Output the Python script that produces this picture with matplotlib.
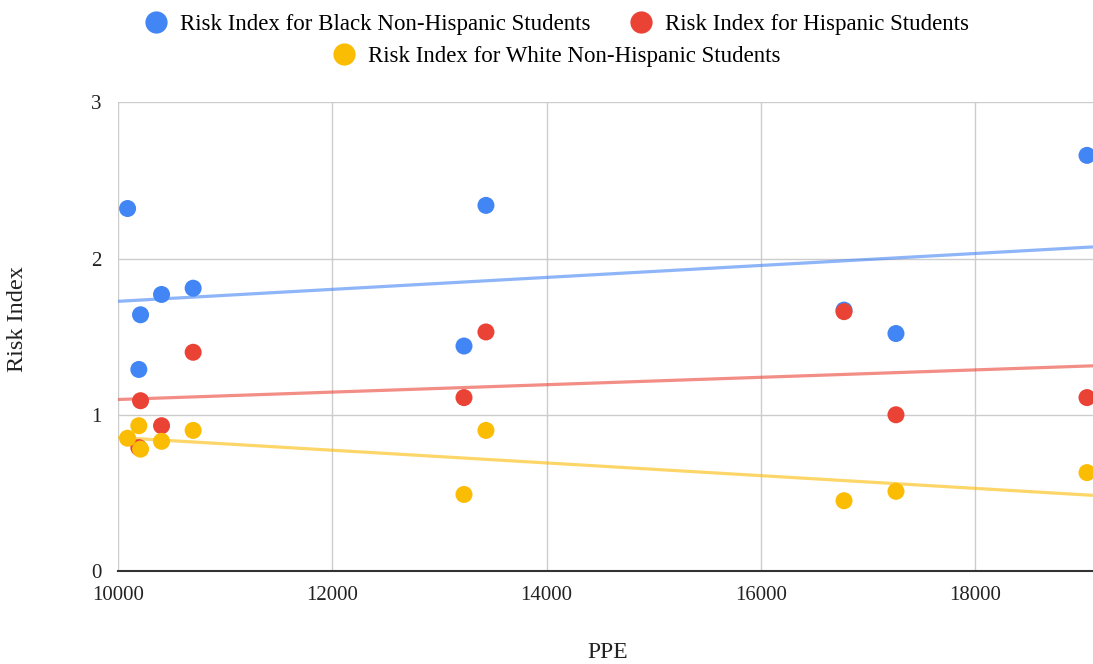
import matplotlib.pyplot as plt
import numpy as np
from matplotlib.lines import Line2D

plt.rcParams["font.family"] = ["Liberation Serif", "DejaVu Serif"]

# PPE values per district; the Hispanic series has one district fewer
ppe = [10089, 10194, 10210, 10406, 10701, 13229, 13434, 16776, 17261, 19044]
black_risk = [2.32, 1.29, 1.64, 1.77, 1.81, 1.44, 2.34, 1.67, 1.52, 2.66]
hispanic_ppe = [10194, 10210, 10406, 10701, 13229, 13434, 16776, 17261, 19044]
hispanic_risk = [0.79, 1.09, 0.93, 1.40, 1.11, 1.53, 1.66, 1.00, 1.11]
white_risk = [0.85, 0.93, 0.78, 0.83, 0.90, 0.49, 0.90, 0.45, 0.51, 0.63]

series = [
    ("Risk Index for Black Non-Hispanic Students", ppe, black_risk, "#4285F4"),
    ("Risk Index for Hispanic Students", hispanic_ppe, hispanic_risk, "#EA4335"),
    ("Risk Index for White Non-Hispanic Students", ppe, white_risk, "#FBBC04"),
]

x_ticks = [10000, 12000, 14000, 16000, 18000]
y_ticks = [0, 1, 2, 3]
x_lim = (10000, 19100)

fig = plt.figure(figsize=(10.93, 6.64), dpi=100)
ax = fig.add_axes([0.108, 0.140, 0.892, 0.706])

x_line = np.array(x_lim, dtype=float)
for label, xs, vals, color in series:
    slope, icpt = np.polyfit(np.asarray(xs, float), np.asarray(vals, float), 1)
    ax.plot(x_line, slope * x_line + icpt, color=color, alpha=0.6, linewidth=2.3,
            zorder=2, solid_capstyle="butt")
for i, (label, xs, vals, color) in enumerate(series):
    ax.scatter(xs, vals, s=150, color=color, edgecolors="none", zorder=3 + i, clip_on=False)

ax.set_xlim(*x_lim)
ax.set_ylim(0, 3)
ax.set_xticks(x_ticks)
ax.set_yticks(y_ticks)
ax.tick_params(length=0, labelsize=15, colors="#222222")
ax.tick_params(axis="x", pad=11)
ax.tick_params(axis="y", pad=12)
ax.grid(True, color="#cccccc", linewidth=1.0)
ax.set_axisbelow(True)
for side in ["top", "right", "left"]:
    ax.spines[side].set_visible(False)
ax.spines["bottom"].set_color("#333333")
ax.spines["bottom"].set_linewidth(1.5)
ax.spines["bottom"].set_zorder(2.5)

fig.text(0.556, 0.018, "PPE", ha="center", va="center", fontsize=17, color="#222222")
fig.text(0.016, 0.52, "Risk Index", rotation=90, ha="center", va="center", fontsize=17.5,
         color="#222222")

handles = [Line2D([], [], marker="o", linestyle="none", markersize=16, color=c,
                  markeredgewidth=0) for _, _, _, c in series]
labels = [s[0] for s in series]
fig.legend(handles[:2], labels[:2], loc="center", bbox_to_anchor=(0.508, 0.963), ncol=2,
           frameon=False, fontsize=16.5, handletextpad=0.45, columnspacing=1.6,
           handlelength=1.2)
fig.legend(handles[2:], labels[2:], loc="center", bbox_to_anchor=(0.508, 0.915), ncol=1,
           frameon=False, fontsize=16.5, handletextpad=0.45, handlelength=1.2)

fig.savefig("out.png", dpi=100)
